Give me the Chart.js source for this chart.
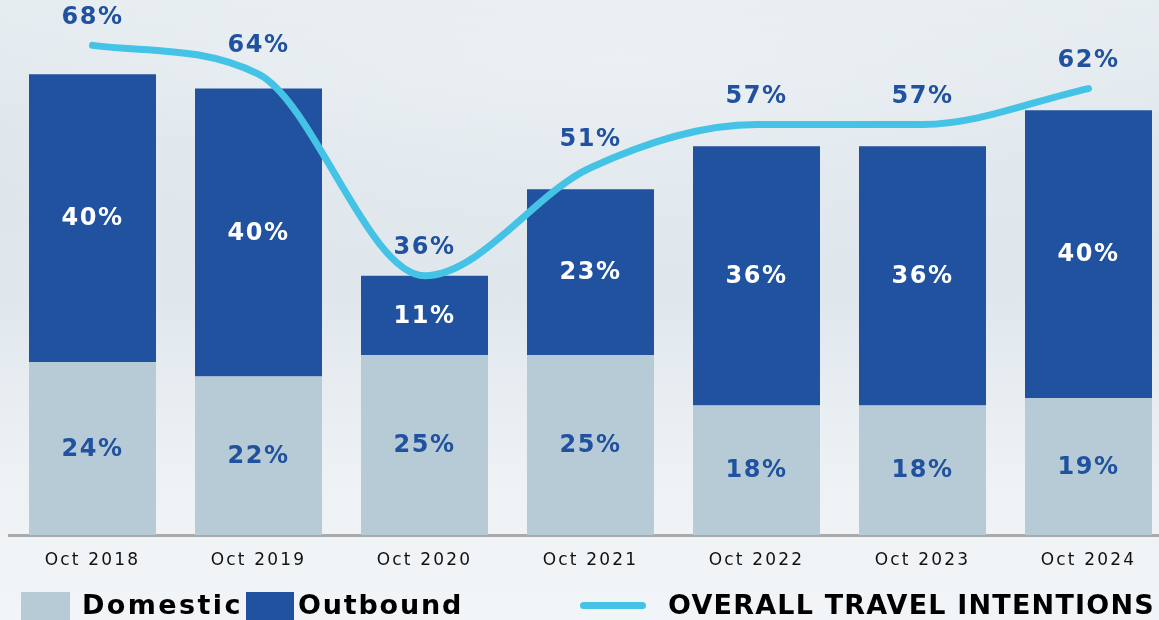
<!DOCTYPE html>
<html>
<head>
<meta charset="utf-8">
<script src="https://cdn.jsdelivr.net/npm/chart.js@4.4.1/dist/chart.umd.min.js"></script>
<style>
  html, body { margin: 0; padding: 0; width: 1159px; height: 620px; overflow: hidden; }
  body {
    position: relative;
    background:
      radial-gradient(ellipse 900px 220px at 620px 60px, rgba(236,241,244,0.9) 0%, rgba(236,241,244,0) 100%),
      linear-gradient(to bottom, #e4ebef 0%, #dce4ea 22%, #e1e8ed 50%, #eef2f5 78%, #f2f5f8 100%);
    font-family: "DejaVu Sans", sans-serif;
  }
  #wrap { position: absolute; left: 0; top: 0; width: 1172px; height: 620px; }
  .sw { position: absolute; }
  .lg { position: absolute; top: 590px; font-weight: bold; font-size: 27px; letter-spacing: 2.4px; color: #000; line-height: 30px; white-space: nowrap; }
</style>
</head>
<body>
<div id="wrap"><canvas id="c" width="1172" height="620"></canvas></div>

<div class="sw" style="left:21px;top:592px;width:49px;height:30px;background:#b7cbd6"></div>
<div class="lg" style="left:82px">Domestic</div>
<div class="sw" style="left:246px;top:592px;width:48px;height:30px;background:#21529f"></div>
<div class="lg" style="left:298px;letter-spacing:1.8px">Outbound</div>
<div class="sw" style="left:580px;top:602px;width:66px;height:7px;border-radius:4px;background:#45c3e6"></div>
<div class="lg" style="left:668px;letter-spacing:1.2px">OVERALL TRAVEL INTENTIONS</div>

<script>
// data
const periods = ["Oct 2018", "Oct 2019", "Oct 2020", "Oct 2021", "Oct 2022", "Oct 2023", "Oct 2024"];
const domestic = [24, 22, 25, 25, 18, 18, 19];
const outbound = [40, 40, 11, 23, 36, 36, 40];
const overall = [68, 64, 36, 51, 57, 57, 62];

const DOM = "#b7cbd6";
const OUT = "#21529f";
const LINE = "#45c3e6";
const LABEL = "#21529f";

// labels on bars and line
const valueLabels = {
  id: "valueLabels",
  afterDatasetsDraw(chart) {
    const ctx = chart.ctx;
    ctx.save();
    ctx.font = "bold 24px 'DejaVu Sans'";
    ctx.letterSpacing = "1.5px";
    ctx.textAlign = "center";
    ctx.textBaseline = "middle";
    chart.data.datasets.forEach((ds, i) => {
      const meta = chart.getDatasetMeta(i);
      meta.data.forEach((el, j) => {
        const v = ds.data[j];
        if (ds.type === "line") {
          ctx.fillStyle = LABEL;
          ctx.fillText(v + "%", el.x, el.y - 28);
        } else {
          const p = el.getProps(["x", "y", "base"], true);
          ctx.fillStyle = i === 0 ? LABEL : "#ffffff";
          ctx.fillText(v + "%", p.x, (p.y + p.base) / 2 + 1);
        }
      });
    });
    ctx.restore();
  }
};

// wider tick text
const tickSpacing = {
  id: "tickSpacing",
  beforeDraw(chart) { chart.ctx.letterSpacing = "2.2px"; },
  afterDraw(chart) { chart.ctx.letterSpacing = "0px"; }
};

new Chart(document.getElementById("c"), {
  data: {
    labels: periods,
    datasets: [
      { type: "bar", label: "Domestic", data: domestic, backgroundColor: DOM, stack: "s",
        categoryPercentage: 1, barPercentage: 0.765, order: 2 },
      { type: "bar", label: "Outbound", data: outbound, backgroundColor: OUT, stack: "s",
        categoryPercentage: 1, barPercentage: 0.765, order: 2 },
      { type: "line", label: "OVERALL TRAVEL INTENTIONS", data: overall, borderColor: LINE,
        borderWidth: 7, borderCapStyle: "round", cubicInterpolationMode: "monotone",
        pointRadius: 0, order: 1 }
    ]
  },
  options: {
    responsive: false,
    animation: false,
    layout: { padding: { left: 9.5, right: 0.5, top: 0, bottom: 0 } },
    plugins: { legend: { display: false }, tooltip: { enabled: false } },
    scales: {
      x: {
        stacked: true,
        grid: { display: false, drawTicks: false },
        border: { display: true, color: "#aaaaaa", width: 3 },
        ticks: { color: "#111111", font: { family: "DejaVu Sans", size: 17 }, padding: 15, maxRotation: 0 },
        afterFit(scale) { scale.height = 85; }
      },
      y: {
        stacked: true,
        display: false,
        min: 0,
        max: 74.3
      }
    }
  },
  plugins: [valueLabels, tickSpacing]
});
</script>
</body>
</html>
